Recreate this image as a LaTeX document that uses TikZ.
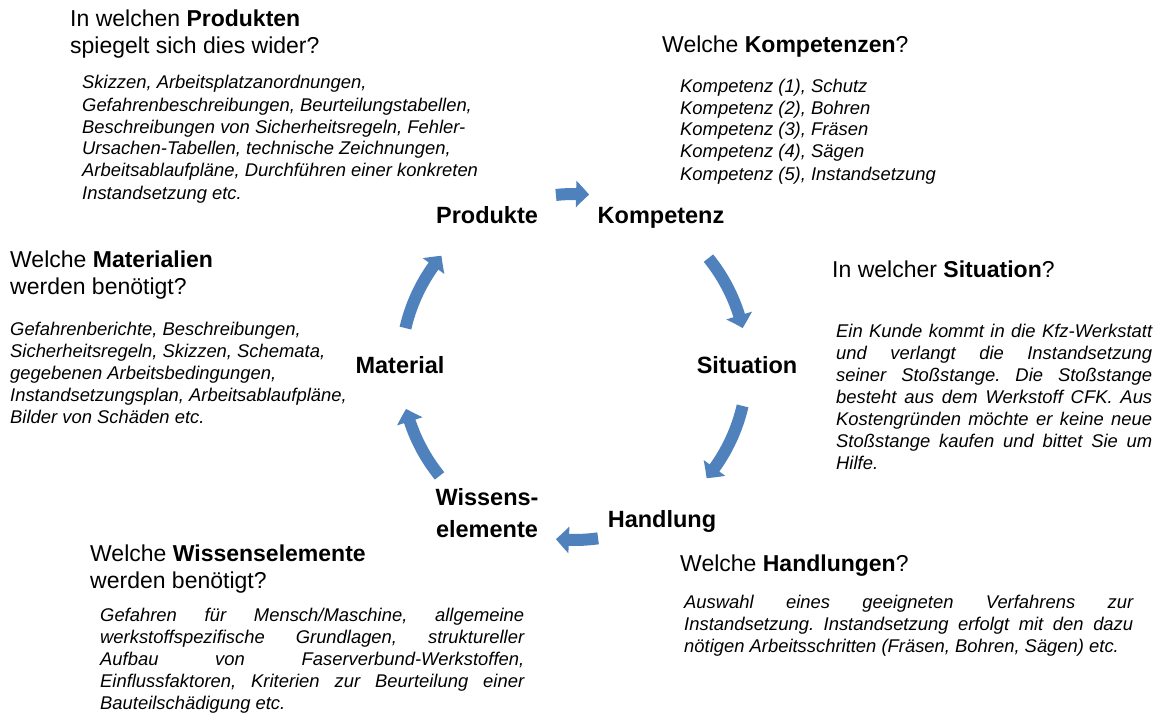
\documentclass[tikz,border=0pt]{standalone}
\usepackage{fontspec}
\setmainfont{Liberation Sans}
\usetikzlibrary{arrows.meta,bending}
\definecolor{cycleblue}{RGB}{79,129,189}
\newcommand{\jline}[2]{\makebox[#1pt][s]{#2}}
\frenchspacing

\begin{document}
\begin{tikzpicture}[x=1pt,y=1pt]
\tikzstyle{plainspace}=[execute at begin node={\spaceskip=0pt\xspaceskip=0pt}]
\tikzstyle{question}=[plainspace,inner sep=0pt,align=left,font=\fontsize{23}{27}\selectfont]
\tikzstyle{answer}=[plainspace,inner sep=0pt,align=left,font=\fontsize{18.4}{22}\selectfont\itshape]
\tikzstyle{phase}=[inner sep=0pt,align=center,font=\fontsize{23.5}{32}\selectfont\bfseries]
\tikzstyle{cyclearrow}=[draw=cycleblue,line width=12pt,-{Triangle[width=26pt,length=13pt,bend]}]

\useasboundingbox (0,0) rectangle (1158,-714);

% the six phases of the cycle (base = last line)
\node (produkte) [phase,anchor=base] at (487,-223) {Produkte};
\node (kompetenz) [phase,anchor=base] at (661,-223) {Kompetenz};
\node (situation) [phase,anchor=base] at (747,-373) {Situation};
\node (handlung) [phase,anchor=base] at (662,-527) {Handlung};
\node (wissen) [phase,anchor=base] at (487,-537) {Wissens-\\elemente};
\node (material) [phase,anchor=base] at (400,-373) {Material};

% arrows on one circle round the middle
\coordinate (hub) at (574,-367);
\foreach \a/\b in {96/85, 39/13, -13/-40, -82/-96, -141/-166, 167/140}
  \draw [cyclearrow] ([shift={(\a:173pt)}]hub) arc [start angle=\a, end angle=\b, radius=173pt];

% Produkte
\node (qprod) [question,anchor=base west] at (70,-54) {In welchen \textbf{Produkten}\\spiegelt sich dies wider?};
\node (tprod) [answer,anchor=base west] at (82,-199) {Skizzen, Arbeitsplatzanordnungen,\\
  Gefahrenbeschreibungen, Beurteilungstabellen,\\
  Beschreibungen von Sicherheitsregeln, Fehler-\\
  Ursachen-Tabellen, technische Zeichnungen,\\
  Arbeitsablaufpläne, Durchführen einer konkreten\\
  Instandsetzung etc.};

% Kompetenz
\node (qkomp) [question,anchor=base west] at (662,-53) {Welche \textbf{Kompetenzen}?};
\node (tkomp) [answer,anchor=base west] at (680,-180) {Kompetenz (1), Schutz\\
  Kompetenz (2), Bohren\\
  Kompetenz (3), Fräsen\\
  Kompetenz (4), Sägen\\
  Kompetenz (5), Instandsetzung};

% Situation (text width: base = first line)
\node (qsit) [question,anchor=base west] at (832,-277) {In welcher \textbf{Situation}?};
\node (tsit) [answer,anchor=base west,text width=316pt] at (836,-337) {\jline{316}{Ein Kunde kommt in die Kfz-Werkstatt}\\
  \jline{316}{und verlangt die Instandsetzung}\\
  \jline{316}{seiner Stoßstange. Die Stoßstange}\\
  \jline{316}{besteht aus dem Werkstoff CFK. Aus}\\
  \jline{316}{Kostengründen möchte er keine neue}\\
  \jline{316}{Stoßstange kaufen und bittet Sie um}\\
  Hilfe.};

% Handlung
\node (qhand) [question,anchor=base west] at (680,-571) {Welche \textbf{Handlungen}?};
\node (thand) [answer,anchor=base west,text width=449pt] at (684,-608) {\jline{449}{Auswahl eines geeigneten Verfahrens zur}\\
  \jline{449}{Instandsetzung. Instandsetzung erfolgt mit den dazu}\\
  nötigen Arbeitsschritten (Fräsen, Bohren, Sägen) etc.};

% Wissenselemente
\node (qwiss) [question,anchor=base west] at (90,-588) {Welche \textbf{Wissenselemente}\\werden benötigt?};
\node (twiss) [answer,anchor=base west,text width=424pt] at (100,-621) {\jline{424}{Gefahren für Mensch/Maschine, allgemeine}\\
  \jline{424}{werkstoffspezifische Grundlagen, struktureller}\\
  \jline{424}{Aufbau von Faserverbund-Werkstoffen,}\\
  \jline{424}{Einflussfaktoren, Kriterien zur Beurteilung einer}\\
  Bauteilschädigung etc.};

% Material
\node (qmat) [question,anchor=base west] at (10,-294) {Welche \textbf{Materialien}\\werden benötigt?};
\node (tmat) [answer,anchor=base west] at (10,-423) {Gefahrenberichte, Beschreibungen,\\
  Sicherheitsregeln, Skizzen, Schemata,\\
  gegebenen Arbeitsbedingungen,\\
  Instandsetzungsplan, Arbeitsablaufpläne,\\
  Bilder von Schäden etc.};

\end{tikzpicture}
\end{document}
